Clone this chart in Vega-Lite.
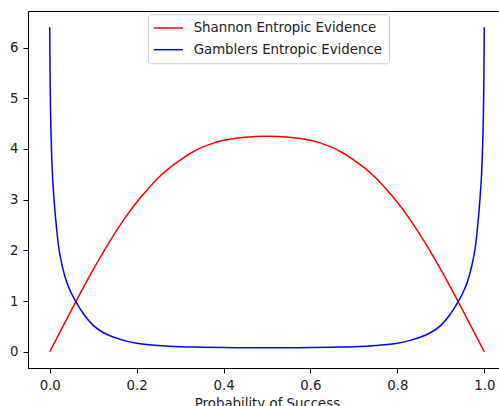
{
  "$schema": "https://vega.github.io/schema/vega-lite/v6.json",
  "autosize": {"type": "none"},
  "padding": {"left": 28, "top": 11, "right": 0, "bottom": 38},
  "width": 478,
  "height": 357,
  "config": {
    "font": "DejaVu Sans",
    "view": {"stroke": "black", "strokeWidth": 1},
    "axis": {"grid": false, "domainColor": "black", "tickColor": "black", "tickSize": 5, "labelFontSize": 13.33, "labelColor": "#222", "titleFontSize": 13.33, "titleFontWeight": "normal", "titleColor": "#222", "labelPadding": 5}
  },
  "data": {"values": [
    {"p": 0, "series": "Shannon Entropic Evidence", "value": 0},
    {"p": 0.02, "series": "Shannon Entropic Evidence", "value": 0.33},
    {"p": 0.04, "series": "Shannon Entropic Evidence", "value": 0.66},
    {"p": 0.06, "series": "Shannon Entropic Evidence", "value": 0.99},
    {"p": 0.08, "series": "Shannon Entropic Evidence", "value": 1.31},
    {"p": 0.1, "series": "Shannon Entropic Evidence", "value": 1.62},
    {"p": 0.125, "series": "Shannon Entropic Evidence", "value": 1.99},
    {"p": 0.15, "series": "Shannon Entropic Evidence", "value": 2.34},
    {"p": 0.175, "series": "Shannon Entropic Evidence", "value": 2.66},
    {"p": 0.2, "series": "Shannon Entropic Evidence", "value": 2.95},
    {"p": 0.225, "series": "Shannon Entropic Evidence", "value": 3.2},
    {"p": 0.25, "series": "Shannon Entropic Evidence", "value": 3.43},
    {"p": 0.275, "series": "Shannon Entropic Evidence", "value": 3.62},
    {"p": 0.3, "series": "Shannon Entropic Evidence", "value": 3.78},
    {"p": 0.325, "series": "Shannon Entropic Evidence", "value": 3.92},
    {"p": 0.35, "series": "Shannon Entropic Evidence", "value": 4.03},
    {"p": 0.375, "series": "Shannon Entropic Evidence", "value": 4.11},
    {"p": 0.4, "series": "Shannon Entropic Evidence", "value": 4.17},
    {"p": 0.45, "series": "Shannon Entropic Evidence", "value": 4.23},
    {"p": 0.5, "series": "Shannon Entropic Evidence", "value": 4.25},
    {"p": 0.55, "series": "Shannon Entropic Evidence", "value": 4.23},
    {"p": 0.6, "series": "Shannon Entropic Evidence", "value": 4.17},
    {"p": 0.625, "series": "Shannon Entropic Evidence", "value": 4.11},
    {"p": 0.65, "series": "Shannon Entropic Evidence", "value": 4.03},
    {"p": 0.675, "series": "Shannon Entropic Evidence", "value": 3.92},
    {"p": 0.7, "series": "Shannon Entropic Evidence", "value": 3.78},
    {"p": 0.725, "series": "Shannon Entropic Evidence", "value": 3.62},
    {"p": 0.75, "series": "Shannon Entropic Evidence", "value": 3.43},
    {"p": 0.775, "series": "Shannon Entropic Evidence", "value": 3.2},
    {"p": 0.8, "series": "Shannon Entropic Evidence", "value": 2.95},
    {"p": 0.825, "series": "Shannon Entropic Evidence", "value": 2.66},
    {"p": 0.85, "series": "Shannon Entropic Evidence", "value": 2.34},
    {"p": 0.875, "series": "Shannon Entropic Evidence", "value": 1.99},
    {"p": 0.9, "series": "Shannon Entropic Evidence", "value": 1.62},
    {"p": 0.92, "series": "Shannon Entropic Evidence", "value": 1.31},
    {"p": 0.94, "series": "Shannon Entropic Evidence", "value": 0.99},
    {"p": 0.96, "series": "Shannon Entropic Evidence", "value": 0.66},
    {"p": 0.98, "series": "Shannon Entropic Evidence", "value": 0.33},
    {"p": 1.0, "series": "Shannon Entropic Evidence", "value": 0},
    {"p": 0, "series": "Gamblers Entropic Evidence", "value": 6.4},
    {"p": 0.001, "series": "Gamblers Entropic Evidence", "value": 5.3},
    {"p": 0.002, "series": "Gamblers Entropic Evidence", "value": 4.7},
    {"p": 0.005, "series": "Gamblers Entropic Evidence", "value": 3.75},
    {"p": 0.01, "series": "Gamblers Entropic Evidence", "value": 3.0},
    {"p": 0.015, "series": "Gamblers Entropic Evidence", "value": 2.5},
    {"p": 0.02, "series": "Gamblers Entropic Evidence", "value": 2.1},
    {"p": 0.03, "series": "Gamblers Entropic Evidence", "value": 1.65},
    {"p": 0.04, "series": "Gamblers Entropic Evidence", "value": 1.35},
    {"p": 0.05, "series": "Gamblers Entropic Evidence", "value": 1.15},
    {"p": 0.06, "series": "Gamblers Entropic Evidence", "value": 0.99},
    {"p": 0.08, "series": "Gamblers Entropic Evidence", "value": 0.72},
    {"p": 0.1, "series": "Gamblers Entropic Evidence", "value": 0.52},
    {"p": 0.125, "series": "Gamblers Entropic Evidence", "value": 0.37},
    {"p": 0.15, "series": "Gamblers Entropic Evidence", "value": 0.28},
    {"p": 0.175, "series": "Gamblers Entropic Evidence", "value": 0.215},
    {"p": 0.2, "series": "Gamblers Entropic Evidence", "value": 0.17},
    {"p": 0.25, "series": "Gamblers Entropic Evidence", "value": 0.125},
    {"p": 0.3, "series": "Gamblers Entropic Evidence", "value": 0.1},
    {"p": 0.35, "series": "Gamblers Entropic Evidence", "value": 0.09},
    {"p": 0.4, "series": "Gamblers Entropic Evidence", "value": 0.083},
    {"p": 0.45, "series": "Gamblers Entropic Evidence", "value": 0.08},
    {"p": 0.5, "series": "Gamblers Entropic Evidence", "value": 0.079},
    {"p": 0.55, "series": "Gamblers Entropic Evidence", "value": 0.08},
    {"p": 0.6, "series": "Gamblers Entropic Evidence", "value": 0.083},
    {"p": 0.65, "series": "Gamblers Entropic Evidence", "value": 0.09},
    {"p": 0.7, "series": "Gamblers Entropic Evidence", "value": 0.1},
    {"p": 0.75, "series": "Gamblers Entropic Evidence", "value": 0.125},
    {"p": 0.8, "series": "Gamblers Entropic Evidence", "value": 0.17},
    {"p": 0.825, "series": "Gamblers Entropic Evidence", "value": 0.215},
    {"p": 0.85, "series": "Gamblers Entropic Evidence", "value": 0.28},
    {"p": 0.875, "series": "Gamblers Entropic Evidence", "value": 0.37},
    {"p": 0.9, "series": "Gamblers Entropic Evidence", "value": 0.52},
    {"p": 0.92, "series": "Gamblers Entropic Evidence", "value": 0.72},
    {"p": 0.94, "series": "Gamblers Entropic Evidence", "value": 0.99},
    {"p": 0.95, "series": "Gamblers Entropic Evidence", "value": 1.15},
    {"p": 0.96, "series": "Gamblers Entropic Evidence", "value": 1.35},
    {"p": 0.97, "series": "Gamblers Entropic Evidence", "value": 1.65},
    {"p": 0.98, "series": "Gamblers Entropic Evidence", "value": 2.1},
    {"p": 0.985, "series": "Gamblers Entropic Evidence", "value": 2.5},
    {"p": 0.99, "series": "Gamblers Entropic Evidence", "value": 3.0},
    {"p": 0.995, "series": "Gamblers Entropic Evidence", "value": 3.75},
    {"p": 0.998, "series": "Gamblers Entropic Evidence", "value": 4.7},
    {"p": 0.999, "series": "Gamblers Entropic Evidence", "value": 5.3},
    {"p": 1.0, "series": "Gamblers Entropic Evidence", "value": 6.4}
  ]},
  "encoding": {
    "x": {"field": "p", "type": "quantitative", "title": "Probability of Success",
      "scale": {"domain": [-0.05, 1.05], "nice": false, "zero": false},
      "axis": {"values": [0, 0.2, 0.4, 0.6, 0.8, 1.0], "format": ".1f", "titlePadding": 5}},
    "y": {"field": "value", "type": "quantitative", "title": null,
      "scale": {"domain": [-0.32, 6.72], "nice": false, "zero": false},
      "axis": {"values": [0, 1, 2, 3, 4, 5, 6], "format": "d"}},
    "order": {"field": "p", "type": "quantitative"},
    "color": {"field": "series", "type": "nominal",
      "scale": {"domain": ["Shannon Entropic Evidence", "Gamblers Entropic Evidence"], "range": ["#ff0000", "#0000ff"]},
      "legend": {"title": null, "orient": "none", "legendX": 120, "legendY": 3.3,
        "symbolType": "M-3,0H3", "symbolSize": 94, "symbolStrokeWidth": 1.5, "symbolOffset": 6.65,
        "labelFontSize": 13.33, "labelColor": "#222", "labelOffset": 18.65, "labelLimit": 0,
        "padding": 7, "rowPadding": 7.7, "strokeColor": "#cccccc", "cornerRadius": 3, "fillColor": "white"}}
  },
  "layer": [
    {"transform": [{"filter": "datum.series === 'Shannon Entropic Evidence'"}],
     "mark": {"type": "line", "strokeWidth": 1.5, "interpolate": "natural", "clip": true}},
    {"transform": [{"filter": "datum.series === 'Gamblers Entropic Evidence'"}],
     "mark": {"type": "line", "strokeWidth": 1.5, "interpolate": "monotone", "clip": true}}
  ]
}
